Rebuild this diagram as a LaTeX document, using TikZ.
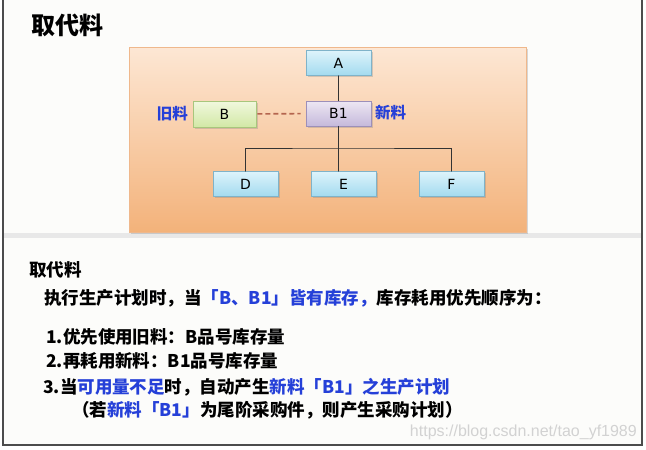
\documentclass[tikz,border=0pt]{standalone}
\usepackage{fontspec}
\setmainfont{DejaVu Sans}
\newfontfamily\cjk{Noto Sans CJK SC}
\newfontfamily\urlfont{Liberation Sans}
\usepackage{tikz}
\usetikzlibrary{shadows}
\usepackage{xcolor}
\definecolor{pagebg}{HTML}{FCFCFA}
\definecolor{peachtop}{HTML}{FDE7D4}
\definecolor{peachbot}{HTML}{F3B27A}
\definecolor{peachline}{HTML}{EFB88C}
\definecolor{cyantop}{HTML}{DDF3FB}
\definecolor{cyanbot}{HTML}{A3DBEF}
\definecolor{cyanline}{HTML}{7FB3C9}
\definecolor{greentop}{HTML}{F1F8DE}
\definecolor{greenbot}{HTML}{D2E8A6}
\definecolor{greenline}{HTML}{A8C67C}
\definecolor{purpletop}{HTML}{EDE7F3}
\definecolor{purplebot}{HTML}{C5B9DB}
\definecolor{purpleline}{HTML}{9C8FB9}
\definecolor{txtblue}{HTML}{2540D8}
\definecolor{dashred}{HTML}{B4654E}

\begin{document}
\begin{tikzpicture}[x=1pt,y=-1pt,line cap=round,
  part/.style={rectangle,draw=cyanline,line width=0.8pt,top color=cyantop,bottom color=cyanbot,
    minimum width=65pt,minimum height=25pt,inner sep=0pt,font=\fontsize{14}{16}\selectfont,
    drop shadow={shadow xshift=1.5pt,shadow yshift=-1.5pt,opacity=0.3}},
  oldpart/.style={part,draw=greenline,top color=greentop,bottom color=greenbot,minimum width=63pt,minimum height=26pt},
  newpart/.style={part,draw=purpleline,top color=purpletop,bottom color=purplebot},
  side/.style={font=\cjk\bfseries\fontsize{15.5}{18}\selectfont,text=txtblue,inner sep=0pt},
  line/.style={anchor=west,inner sep=0pt,font=\cjk\bfseries\fontsize{17.5}{20}\selectfont},
  tree/.style={black!80,line width=0.9pt}]
\useasboundingbox (0,0) rectangle (646,450);
\fill[white] (0,0) rectangle (646,450);
\fill[pagebg] (3,0) rectangle (642,445);
\fill[gray!18] (3,233) rectangle (642,238);
\draw[gray!60!black,line width=1.2pt] (3,0) -- (3,445) -- (642,445) -- (642,0);

\node[anchor=west,inner sep=0pt,font=\cjk\bfseries\fontsize{24}{28}\selectfont] (title) at (31,25) {取代料};

\fill[draw=peachline,line width=0.8pt,top color=peachtop,bottom color=peachbot,
  drop shadow={shadow xshift=1.5pt,shadow yshift=-1.5pt,opacity=0.3}] (129,47) rectangle (526,232);

\node[part] (A) at (338.5,63) {A};
\node[newpart] (B1) at (338.5,113.5) {B1};
\node[oldpart] (B) at (224.5,114) {B};
\node[part] (D) at (245.5,184) {D};
\node[part] (E) at (343.5,184) {E};
\node[part] (F) at (451.5,184) {F};
\node[side,anchor=east] (old) at (188,114) {旧料};
\node[side,anchor=west] (new) at (375,113) {新料};

\coordinate (bus) at (338.5,148);
\draw[tree] (A) -- (B1);
\draw[tree] (B1) -- (B1 |- E.north);
\draw[tree] (D) |- (bus) -| (F);
\draw[dashred,line width=1.6pt,line cap=butt,dash pattern=on 5pt off 3pt,shorten <=1pt,shorten >=5pt] (B) -- (B1);

\node[anchor=west,inner sep=0pt,font=\cjk\bfseries\fontsize{17.5}{20}\selectfont] (sub) at (29,270) {取代料};
\node[line] (l0) at (44,298) {执行生产计划时，当\textcolor{txtblue}{「B、B1」皆有库存，}库存耗用优先顺序为：};
\node[line] (l1) at (46,337) {1.优先使用旧料：B品号库存量};
\node[line] (l2) at (46,361) {2.再耗用新料：B1品号库存量};
\node[line] (l3) at (43,387) {3.当\textcolor{txtblue}{可用量不足}时，自动产生\textcolor{txtblue}{新料「B1」之生产计划}};
\node[line] (l4) at (72,410) {（若\textcolor{txtblue}{新料「B1」}为尾阶采购件，则产生采购计划）};

\node[anchor=east,inner sep=0pt,text=gray!35,font=\urlfont\fontsize{16}{18}\selectfont] (url) at (637,432) {https://blog.csdn.net/tao\_yf1989};
\end{tikzpicture}
\end{document}
